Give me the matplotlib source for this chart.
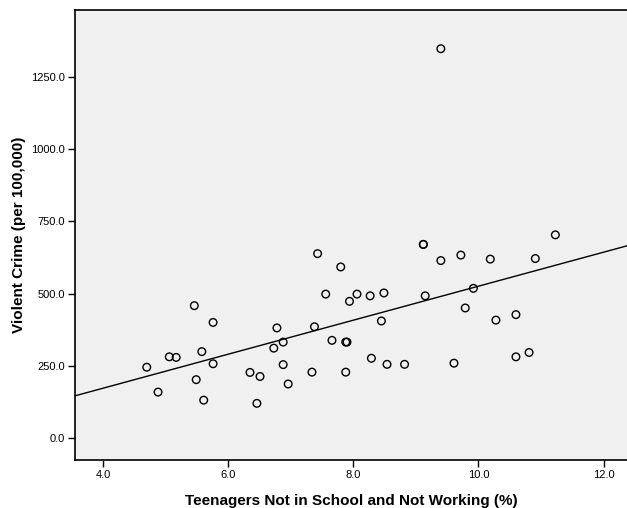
import numpy as np
import matplotlib
matplotlib.use("Agg")
import matplotlib.pyplot as plt

teen_pct = [4.70, 4.88, 5.06, 5.17, 5.46, 5.58, 5.49, 5.61, 5.76, 5.76,
            6.35, 6.51, 6.46, 6.78, 6.73, 6.88, 6.88, 6.96, 7.34, 7.38,
            7.43, 7.80, 7.56, 7.66, 7.88, 7.90, 7.88, 7.94, 8.06, 8.27,
            8.49, 8.45, 8.29, 8.54, 8.82, 9.12, 9.12, 9.15, 9.40, 9.61,
            9.72, 9.79, 9.92, 10.19, 10.28, 10.60, 10.60, 10.81, 10.91, 11.23,
            9.40]
violent_crime = [245, 159, 281, 279, 458, 299, 202, 131, 400, 257,
                 227, 213, 120, 381, 311, 332, 254, 187, 228, 385,
                 638, 592, 498, 338, 332, 332, 228, 473, 498, 492,
                 502, 405, 276, 255, 255, 670, 670, 492, 614, 259,
                 633, 450, 518, 619, 408, 427, 281, 296, 621, 703,
                 1347]

x_ticks = [4.0, 6.0, 8.0, 10.0, 12.0]
y_ticks = [0.0, 250.0, 500.0, 750.0, 1000.0, 1250.0]

plt.rcParams['font.family'] = ['Liberation Sans', 'DejaVu Sans']

fig = plt.figure(figsize=(6.27, 5.08), dpi=100)
ax = fig.add_axes([75/627, 48/508, 1 - 75/627, 450/508])
ax.set_facecolor('#F0F0F0')

xlim = (3.553, 12.375)
ylim = (-76, 1481)

x = np.array(teen_pct)
y = np.array(violent_crime)
slope, intercept = np.polyfit(x, y, 1)
xs = np.array(xlim)
ax.plot(xs, slope * xs + intercept, color='black', lw=1.0)

ax.scatter(x, y, s=30, facecolors='none', edgecolors='black', linewidths=1.0, zorder=3)

ax.set_xlim(*xlim)
ax.set_ylim(*ylim)
ax.set_xticks(x_ticks)
ax.set_xticklabels([f"{v:.1f}" for v in x_ticks])
ax.set_yticks(y_ticks)
ax.set_yticklabels([f"{v:.1f}" for v in y_ticks])
ax.tick_params(axis='both', labelsize=8, length=5, width=1, color='black', pad=2)

for s in ['left', 'bottom', 'top']:
    ax.spines[s].set_linewidth(1.2)
    ax.spines[s].set_color('black')
ax.spines['right'].set_visible(False)

ax.set_xlabel('Teenagers Not in School and Not Working (%)', fontsize=11, fontweight='bold', labelpad=10)
ax.set_ylabel('Violent Crime (per 100,000)', fontsize=11, fontweight='bold', labelpad=4)

fig.savefig('out.png', dpi=100, facecolor='white')
